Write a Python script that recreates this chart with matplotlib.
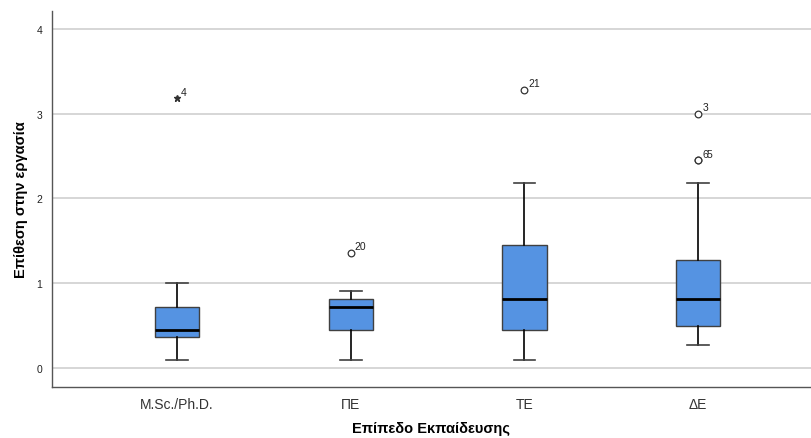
import matplotlib
matplotlib.use("Agg")
import matplotlib.pyplot as plt

# ------------------------------ дані ------------------------------
categories = ["M.Sc./Ph.D.", "ΠΕ", "ΤΕ", "ΔΕ"]
whislo = [0.09, 0.09, 0.09, 0.27]
q1 = [0.37, 0.45, 0.45, 0.50]
med = [0.45, 0.72, 0.81, 0.81]
q3 = [0.72, 0.81, 1.45, 1.27]
whishi = [1.00, 0.91, 2.18, 2.18]

# викиди: (категорія, значення, номер випадку, маркер)
out_cat = [0, 1, 2, 3, 3, 3]
out_val = [3.18, 1.36, 3.28, 3.00, 2.45, 2.45]
out_lbl = ["4", "20", "21", "3", "6", "5"]
out_mark = ["*", "o", "o", "o", "o", "o"]

x_title = "Επίπεδο Εκπαίδευσης"
y_title = "Επίθεση στην εργασία"

plt.rcParams["font.family"] = ["Liberation Sans", "DejaVu Sans"]

fig = plt.figure(figsize=(8.11, 4.39), dpi=100)
ax = fig.add_axes([0.064, 0.116, 0.936, 0.857])

for y in range(5):
    ax.axhline(y, color="#d0d0d0", lw=1.2, zorder=0)

stats = []
for i in range(len(categories)):
    stats.append(dict(whislo=whislo[i], q1=q1[i], med=med[i], q3=q3[i],
                      whishi=whishi[i], fliers=[], label=categories[i]))

ax.bxp(stats, positions=range(len(categories)), widths=0.255,
       patch_artist=True, showfliers=False,
       boxprops=dict(facecolor="#5593e2", edgecolor="#404040", lw=1.0),
       medianprops=dict(color="black", lw=2.0),
       whiskerprops=dict(color="black", lw=1.2),
       capprops=dict(color="#404040", lw=1.2),
       capwidths=0.125, zorder=2)

for c, v, lb, m in zip(out_cat, out_val, out_lbl, out_mark):
    if m == "*":
        ax.plot(c, v, marker="*", ms=5, color="#333333", ls="none", zorder=3)
    else:
        ax.plot(c, v, marker="o", ms=4.8, mfc="white", mec="#333333",
                mew=0.9, ls="none", zorder=3)

# підписи номерів випадків біля викидів
shift = {}
for c, v, lb in zip(out_cat, out_val, out_lbl):
    k = (c, v)
    dx = shift.get(k, 0)
    ax.annotate(lb, (c, v), xytext=(3 + dx, 2.5), textcoords="offset points",
                fontsize=7.5, color="#222222")
    shift[k] = dx + 3

ax.set_xlim(-0.72, 3.65)
ax.set_ylim(-0.224, 4.21)
ax.set_yticks(range(5))
ax.set_xticks(range(len(categories)))
ax.set_xticklabels(categories, fontsize=10, color="#333333")
ax.tick_params(axis="y", length=0, labelsize=7.5, pad=7, colors="#222222")
ax.tick_params(axis="x", length=0, pad=7)

for s in ["top", "right"]:
    ax.spines[s].set_visible(False)
for s in ["left", "bottom"]:
    ax.spines[s].set_color("#555555")
    ax.spines[s].set_linewidth(1.0)

ax.set_xlabel(x_title, fontsize=10.5, fontweight="bold", labelpad=7)
ax.set_ylabel(y_title, fontsize=10.5, fontweight="bold", labelpad=6)

fig.savefig("out.png", dpi=100)
